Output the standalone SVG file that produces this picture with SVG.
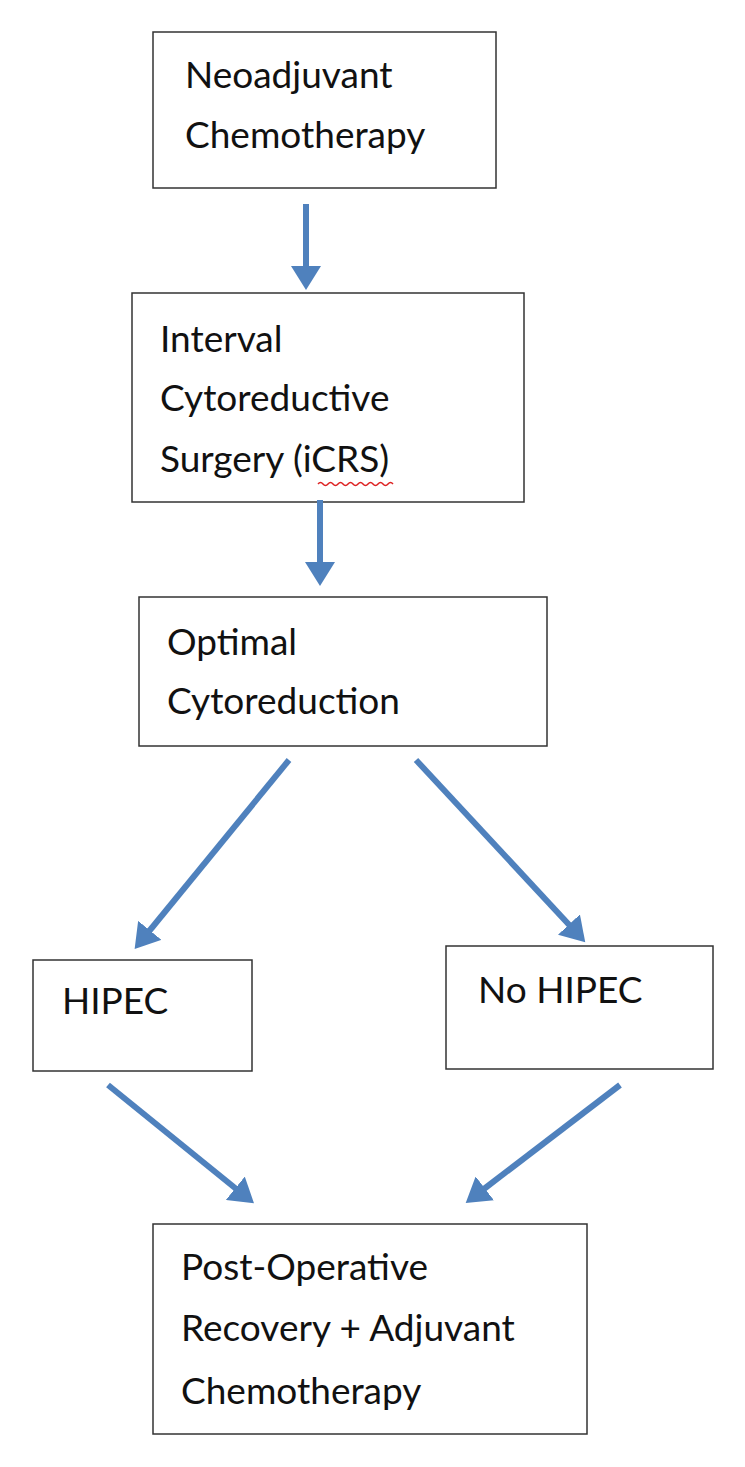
<svg xmlns="http://www.w3.org/2000/svg" width="745" height="1467" viewBox="0 0 745 1467">
<style>
.b{fill:#fff;stroke:#333;stroke-width:1.5}
.t{font-family:Lato,"Open Sans",sans-serif;font-size:37px;fill:#111}
.a{stroke:#4F81BD;stroke-width:6;fill:none;marker-end:url(#h)}
</style>
<defs><marker id="h" markerWidth="5" markerHeight="5" refX="1" refY="2.5" orient="auto" markerUnits="strokeWidth"><path d="M0,0 L4,2.5 L0,5Z" fill="#4F81BD"/></marker></defs>
<rect width="745" height="1467" fill="#fff"/>
<g id="n1"><rect class="b" x="153" y="32" width="343" height="156"/><text class="t" x="185" y="88">Neoadjuvant</text><text class="t" x="185" y="148">Chemotherapy</text></g>
<g id="n2"><rect class="b" x="132" y="293" width="392" height="209"/><text class="t" x="160" y="352">Interval</text><text class="t" x="160" y="411">Cytoreductive</text><text class="t" x="160" y="472">Surgery (iCRS)</text><path d="M318,484 q2.5,-3 5,0 t5,0 t5,0 t5,0 t5,0 t5,0 t5,0 t5,0 t5,0 t5,0 t5,0 t5,0 t5,0 t5,0 t5,0" stroke="#d22" stroke-width="1.5" fill="none"/></g>
<g id="n3"><rect class="b" x="139" y="597" width="408" height="149"/><text class="t" x="167" y="655">Optimal</text><text class="t" x="167" y="714">Cytoreduction</text></g>
<g id="n4"><rect class="b" x="33" y="960" width="219" height="111"/><text class="t" x="62" y="1014">HIPEC</text></g>
<g id="n5"><rect class="b" x="446" y="946" width="267" height="123"/><text class="t" x="478" y="1003">No HIPEC</text></g>
<g id="n6"><rect class="b" x="153" y="1224" width="434" height="210"/><text class="t" x="181" y="1280">Post-Operative</text><text class="t" x="181" y="1341">Recovery + Adjuvant</text><text class="t" x="181" y="1404">Chemotherapy</text></g>
<g id="connectors">
<line class="a" x1="306" y1="204" x2="306" y2="272"/>
<line class="a" x1="320" y1="500" x2="320" y2="568"/>
<line class="a" x1="289" y1="760" x2="146" y2="935"/>
<line class="a" x1="416" y1="760" x2="573" y2="929"/>
<line class="a" x1="108" y1="1085" x2="240" y2="1192"/>
<line class="a" x1="620" y1="1085" x2="480" y2="1192"/>
</g>
</svg>
